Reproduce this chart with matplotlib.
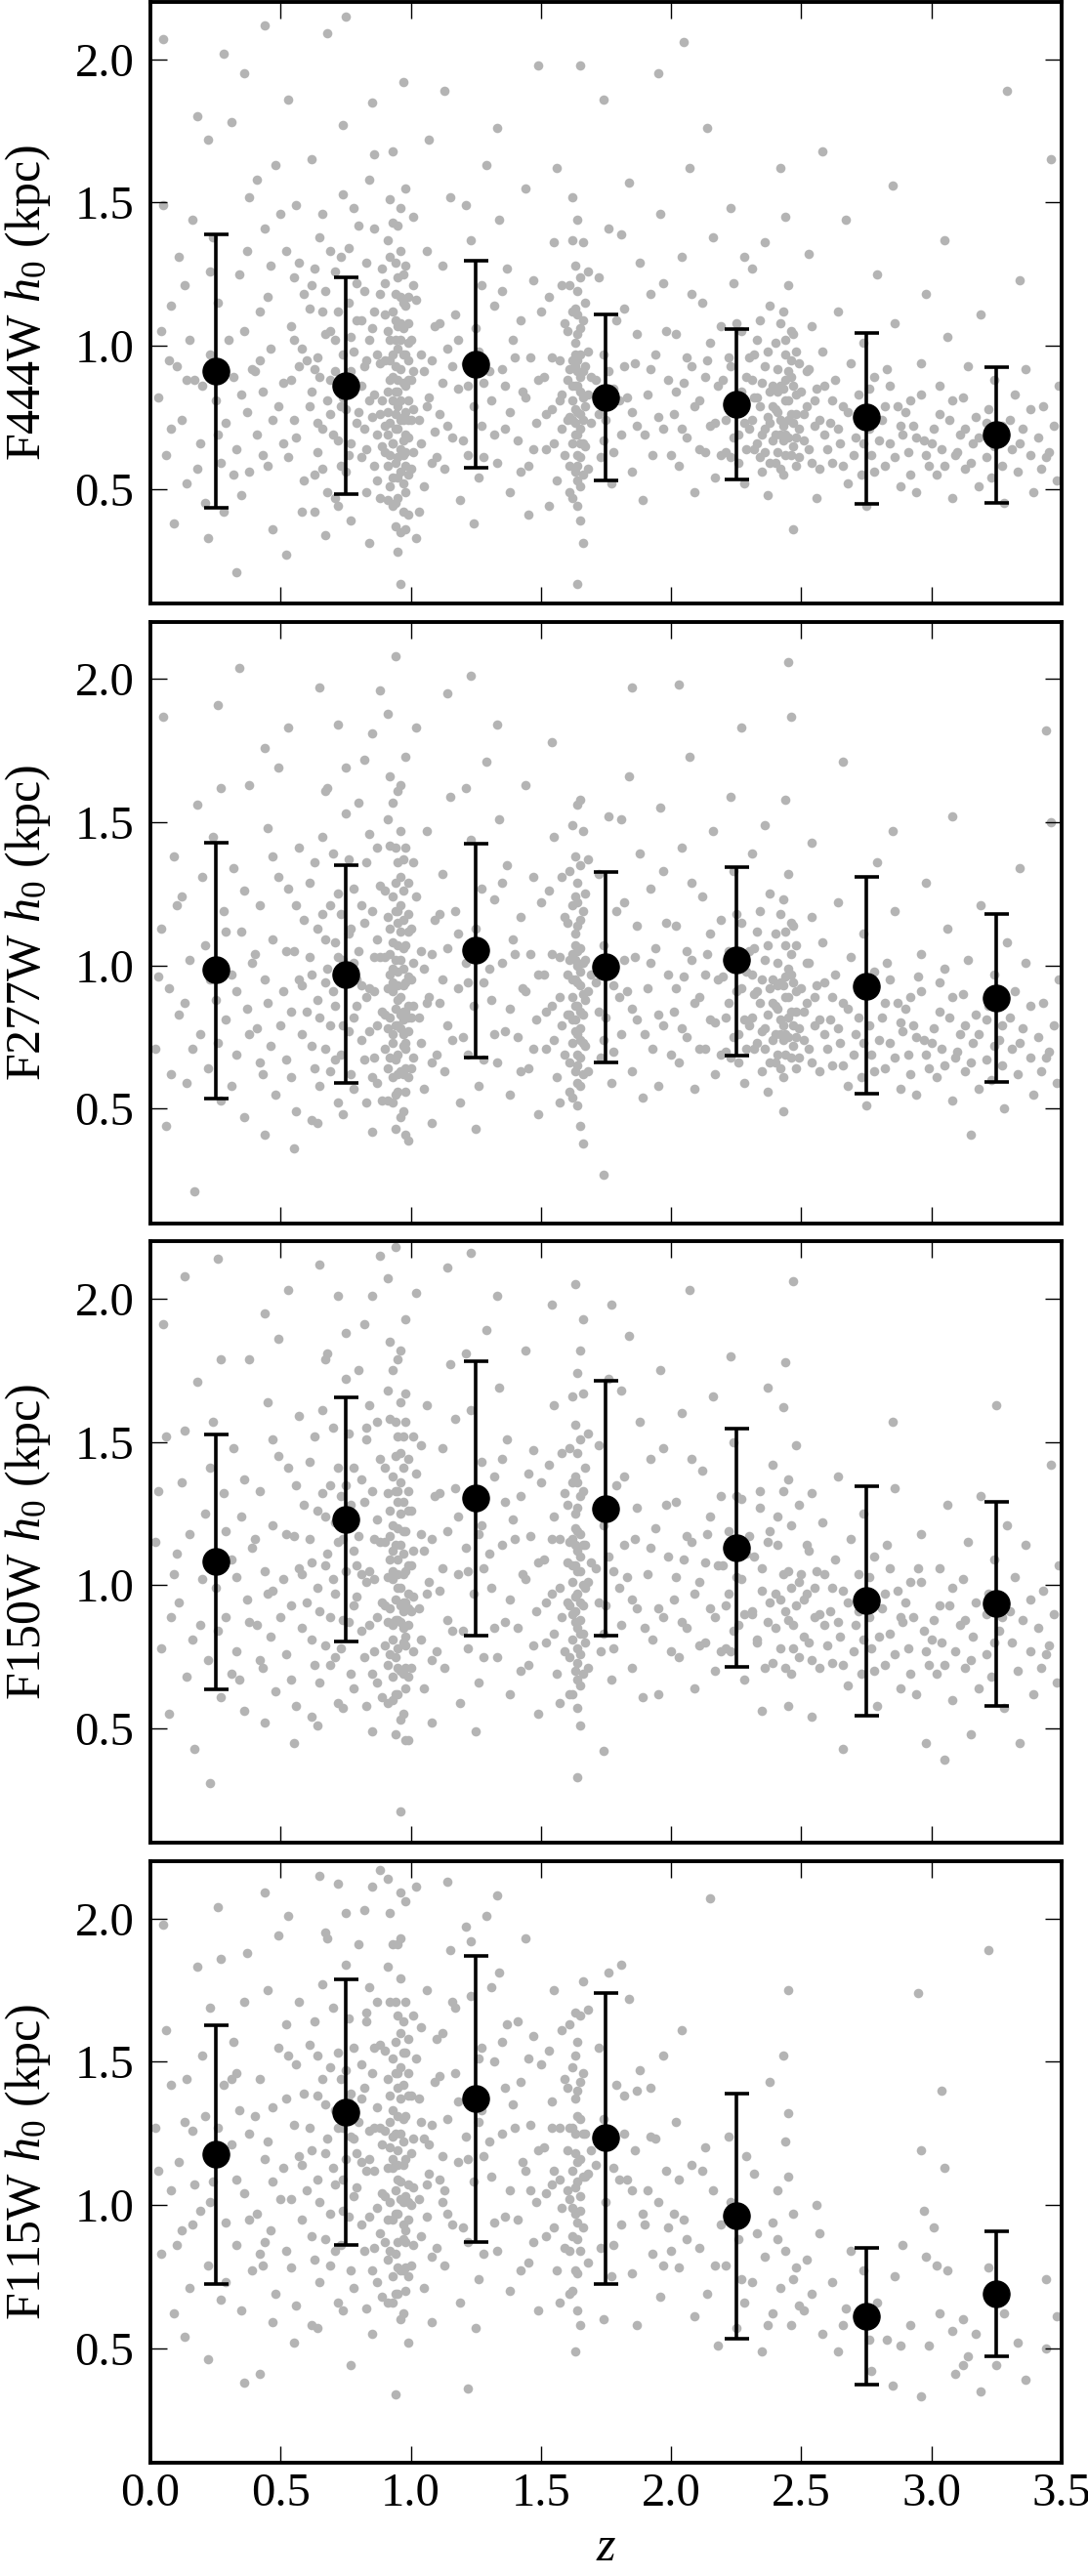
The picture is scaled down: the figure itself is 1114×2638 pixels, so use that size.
import numpy as np
import matplotlib.pyplot as plt

plt.rcParams['font.family'] = ['Liberation Serif', 'DejaVu Serif']
plt.rcParams['mathtext.fontset'] = 'custom'
plt.rcParams['mathtext.rm'] = 'Liberation Serif'
plt.rcParams['mathtext.it'] = 'Liberation Serif:italic'

# binned medians and 16/84 percentile ends
z_bins = [0.25, 0.75, 1.25, 1.75, 2.25, 2.75, 3.25]

f444w_med = [0.91, 0.86, 0.935, 0.82, 0.795, 0.75, 0.69]
f444w_lo = [0.435, 0.483, 0.574, 0.529, 0.534, 0.449, 0.45]
f444w_hi = [1.39, 1.24, 1.297, 1.111, 1.057, 1.046, 0.926]

f277w_med = [0.984, 0.97, 1.054, 0.995, 1.018, 0.929, 0.886]
f277w_lo = [0.537, 0.591, 0.679, 0.66, 0.687, 0.551, 0.592]
f277w_hi = [1.43, 1.35, 1.426, 1.326, 1.344, 1.309, 1.179]

f150w_med = [1.083, 1.23, 1.304, 1.268, 1.132, 0.946, 0.935]
f150w_lo = [0.637, 0.802, 0.825, 0.824, 0.716, 0.543, 0.577]
f150w_hi = [1.525, 1.655, 1.781, 1.713, 1.547, 1.346, 1.292]

f115w_med = [1.176, 1.325, 1.37, 1.234, 0.961, 0.611, 0.691]
f115w_lo = [0.722, 0.859, 0.869, 0.725, 0.532, 0.373, 0.472]
f115w_hi = [1.628, 1.786, 1.87, 1.739, 1.39, 0.85, 0.909]

# individual galaxies (z, h0), estimated from the scatter
f444w_pts = [
    (0.03,0.82),(0.05,2.07),(0.05,1.49),(0.06,0.62),(0.08,1.14),(0.09,0.38),(0.07,0.95),
    (0.11,1.31),(0.12,0.74),(0.14,0.52),(0.15,1.02),(0.17,0.88),(0.18,1.80),(0.19,0.66),(0.13,1.21),
    (0.21,0.45),(0.22,1.72),(0.23,0.97),(0.25,0.81),(0.26,1.15),(0.27,0.59),(0.28,2.02),(0.29,0.73),(0.24,1.38),(0.22,0.33),
    (0.31,1.78),(0.32,0.89),(0.33,0.64),(0.34,1.25),(0.35,0.48),(0.36,1.05),(0.37,0.77),(0.38,1.52),(0.39,0.92),(0.33,0.21),(0.36,1.95),(0.38,0.56),
    (0.41,0.69),(0.42,1.12),(0.43,0.84),(0.44,1.41),(0.45,0.58),(0.46,0.99),(0.47,0.36),(0.48,1.63),(0.49,0.79),(0.44,2.12),(0.46,1.28),(0.42,0.95),
    (0.51,0.87),(0.52,1.33),(0.53,0.61),(0.54,1.07),(0.55,0.74),(0.56,1.49),(0.57,0.93),(0.58,0.42),(0.59,1.18),(0.53,1.86),(0.56,0.68),(0.58,0.99),(0.52,0.27),(0.55,1.24),
    (0.61,0.79),(0.62,1.21),(0.63,0.55),(0.64,0.96),(0.65,1.38),(0.66,0.71),(0.67,1.04),(0.68,0.49),(0.69,0.88),(0.62,1.65),(0.64,0.63),(0.66,1.12),(0.68,2.09),(0.69,0.76),(0.63,0.92),(0.67,0.34),
    (0.71,1.02),(0.72,0.67),(0.73,1.31),(0.74,0.82),(0.75,0.56),(0.76,1.15),(0.77,0.91),(0.78,1.48),(0.79,0.73),(0.72,0.44),(0.74,1.77),(0.76,0.62),(0.78,0.98),(0.71,1.26),(0.73,0.79),(0.77,0.39),(0.79,1.09),(0.75,2.15),
    (0.81,0.86),(0.82,1.19),(0.83,0.64),(0.84,1.02),(0.85,0.75),(0.86,1.41),(0.87,0.53),(0.88,0.94),(0.89,1.27),(0.82,0.71),(0.84,1.58),(0.86,0.83),(0.88,0.47),(0.81,1.09),(0.83,0.95),(0.85,1.85),(0.87,0.69),(0.89,0.81),(0.84,0.31),(0.86,1.12),
    (0.90,0.72),(0.91,1.05),(0.91,0.58),(0.92,0.88),(0.92,1.31),(0.93,0.66),(0.93,0.97),(0.94,0.45),(0.94,1.18),(0.95,0.79),(0.95,1.42),(0.95,0.61),
    (0.96,0.92),(0.96,0.35),(0.96,1.08),(0.97,0.74),(0.97,1.25),(0.97,0.52),(0.98,0.86),(0.98,1.55),(0.98,0.69),(0.99,1.01),(0.99,0.41),(0.99,0.81),
    (0.90,1.22),(0.92,0.51),(0.94,0.84),(0.96,0.64),(0.98,1.14),(0.93,1.68),(0.97,1.92),(0.95,0.28),(0.91,0.77),(0.99,0.95),(0.94,1.02),(0.96,0.17),
    (1.00,0.88),(1.01,0.63),(1.02,1.16),(1.03,0.74),(1.04,0.97),(1.05,0.51),(1.06,1.33),(1.07,0.82),(1.08,0.59),(1.09,1.07),(1.01,1.45),(1.03,0.42),(1.05,0.91),(1.07,1.72),(1.09,0.70),(1.02,0.33),
    (1.11,0.76),(1.12,1.28),(1.13,0.57),(1.14,0.99),(1.15,1.52),(1.16,0.68),(1.17,1.11),(1.18,0.85),(1.19,0.46),(1.13,1.89),(1.16,0.93),
    (1.21,0.94),(1.22,0.62),(1.23,1.37),(1.24,0.79),(1.25,1.06),(1.26,0.54),(1.27,1.21),(1.28,0.87),(1.29,1.63),(1.24,0.38),(1.27,0.72),
    (1.31,0.81),(1.32,1.14),(1.33,0.59),(1.34,1.44),(1.35,0.92),(1.36,0.71),(1.37,1.27),(1.38,0.49),(1.39,1.02),(1.33,1.76),(1.36,0.86),
    (1.41,0.67),(1.42,1.09),(1.43,0.84),(1.44,1.55),(1.45,0.58),(1.46,0.96),(1.47,1.23),(1.48,0.73),(1.49,1.98),(1.45,0.41),
    (1.51,0.89),(1.52,0.64),(1.53,1.17),(1.54,0.78),(1.55,1.36),(1.56,0.53),(1.57,0.95),(1.58,0.71),(1.59,1.08),(1.53,0.44),(1.56,1.62),(1.58,0.83),
    (1.60,0.74),(1.61,0.92),(1.61,0.58),(1.62,1.12),(1.62,0.81),(1.62,0.47),(1.63,0.69),(1.63,1.01),(1.63,1.28),(1.63,0.86),(1.64,0.62),(1.64,0.77),(1.64,0.95),(1.64,1.19),(1.64,0.53),
    (1.65,0.84),(1.65,1.06),(1.65,0.71),(1.65,0.39),(1.66,0.91),(1.66,1.36),(1.66,0.66),(1.67,0.79),(1.67,1.15),(1.68,0.57),(1.68,0.98),(1.69,0.73),(1.62,1.52),(1.65,1.98),(1.64,0.17),
    (1.71,0.88),(1.72,1.24),(1.73,0.61),(1.74,0.97),(1.75,0.74),(1.76,1.41),(1.77,0.52),(1.78,0.85),(1.79,1.09),(1.74,1.86),
    (1.81,0.69),(1.82,1.13),(1.83,0.82),(1.84,1.57),(1.85,0.56),(1.86,0.94),(1.87,0.72),(1.88,1.29),(1.89,0.46),
    (1.91,0.83),(1.92,1.18),(1.93,0.62),(1.94,0.97),(1.96,1.46),(1.97,0.71),(1.99,0.88),(1.95,1.95),
    (2.01,0.76),(2.02,1.04),(2.03,0.58),(2.04,1.31),(2.05,0.87),(2.06,0.68),(2.07,1.62),(2.08,0.93),(2.09,0.49),(2.05,2.06),
    (2.11,0.81),(2.12,1.15),(2.13,0.63),(2.14,0.95),(2.15,0.72),(2.16,1.38),(2.17,0.54),(2.18,0.86),(2.19,1.07),(2.14,1.76),
    (2.21,0.74),(2.22,0.96),(2.23,0.61),(2.24,1.22),(2.25,0.83),(2.26,0.69),(2.27,1.05),(2.28,0.52),(2.29,0.89),(2.23,1.48),(2.26,0.77),(2.28,1.31),
    (2.30,0.71),(2.31,0.88),(2.32,0.64),(2.33,1.02),(2.34,0.79),(2.35,0.56),(2.36,0.93),(2.37,0.75),(2.38,1.14),(2.39,0.67),
    (2.31,1.27),(2.33,0.82),(2.35,0.69),(2.37,0.48),(2.39,0.86),(2.32,0.97),(2.34,0.61),(2.36,1.36),(2.38,0.73),
    (2.40,0.78),(2.41,0.92),(2.41,0.63),(2.42,1.08),(2.42,0.74),(2.43,0.85),(2.43,0.55),(2.44,0.97),(2.44,0.69),(2.45,1.21),(2.45,0.81),
    (2.46,0.62),(2.46,0.89),(2.47,0.73),(2.47,1.04),(2.48,0.58),(2.48,0.83),(2.49,0.71),(2.49,0.94),(2.44,1.45),(2.47,0.36),(2.42,1.62),
    (2.51,0.76),(2.52,0.91),(2.53,0.64),(2.54,1.07),(2.55,0.72),(2.56,0.85),(2.57,0.57),(2.58,0.98),(2.59,0.69),(2.53,1.32),(2.56,0.47),(2.58,1.68),
    (2.61,0.73),(2.62,0.59),(2.63,0.88),(2.64,1.12),(2.65,0.66),(2.66,0.79),(2.68,0.52),(2.69,0.94),(2.67,1.44),
    (2.71,0.68),(2.72,0.83),(2.73,0.55),(2.74,1.01),(2.76,0.71),(2.77,0.62),(2.78,0.89),(2.79,1.25),(2.75,0.44),
    (2.81,0.74),(2.82,0.58),(2.83,0.92),(2.84,0.66),(2.86,1.08),(2.87,0.79),(2.88,0.51),(2.89,0.69),(2.85,1.56),
    (2.91,0.63),(2.92,0.81),(2.93,0.72),(2.94,0.49),(2.96,0.94),(2.97,0.67),(2.98,1.18),(2.99,0.58),
    (3.01,0.71),(3.02,0.55),(3.03,0.86),(3.04,0.64),(3.06,1.03),(3.07,0.74),(3.08,0.47),(3.09,0.62),(3.05,1.37),
    (3.11,0.69),(3.12,0.82),(3.13,0.57),(3.14,0.93),(3.16,0.66),(3.17,0.75),(3.18,0.51),(3.19,1.11),
    (3.21,0.61),(3.22,0.78),(3.23,0.54),(3.24,0.88),(3.26,0.67),(3.27,0.72),(3.28,0.45),(3.29,1.89),
    (3.31,0.64),(3.32,0.83),(3.33,0.56),(3.35,0.71),(3.36,0.92),(3.38,0.62),(3.39,0.49),(3.34,1.23),
    (3.41,0.68),(3.42,0.57),(3.43,0.79),(3.45,0.63),(3.46,1.65),(3.47,0.72),(3.48,0.53),(3.49,0.86),
    # denser regions
    (0.04,1.05),(0.08,0.71),(0.10,0.93),(0.16,1.44),(0.18,0.57),(0.20,0.86),(0.23,1.26),(0.26,0.69),(0.30,1.02),(0.32,0.55),
    (0.35,0.83),(0.37,1.33),(0.40,0.91),(0.43,0.62),(0.45,1.17),(0.47,0.74),(0.50,1.46),(0.51,0.66),(0.54,0.88),(0.57,1.29),
    (0.59,0.53),(0.41,1.58),(0.28,0.42),(0.14,0.88),(0.55,1.02),
    (0.60,0.95),(0.61,1.13),(0.62,0.84),(0.63,1.27),(0.64,0.73),(0.65,0.89),(0.66,0.57),(0.67,1.19),(0.68,0.81),(0.69,1.05),
    (0.70,0.69),(0.71,0.91),(0.72,1.12),(0.73,0.58),(0.74,0.97),(0.75,0.78),(0.76,1.34),(0.77,0.66),(0.78,0.84),(0.79,1.22),
    (0.80,0.77),(0.81,0.61),(0.82,0.93),(0.83,1.29),(0.84,0.81),(0.85,1.06),(0.86,0.58),(0.87,0.97),(0.88,1.18),(0.89,0.65),
    (0.80,1.42),(0.83,0.49),(0.86,1.67),(0.88,0.76),(0.71,0.47),(0.74,1.53),(0.66,1.46),(0.63,0.42),(0.69,1.33),(0.77,1.03),
    (0.90,0.95),(0.90,0.63),(0.90,1.11),(0.91,0.84),(0.91,1.37),(0.91,0.46),(0.92,0.73),(0.92,1.02),(0.92,0.62),(0.93,0.81),
    (0.93,1.12),(0.93,0.54),(0.93,1.43),(0.94,0.71),(0.94,0.93),(0.94,1.29),(0.94,0.59),(0.95,0.88),(0.95,1.07),(0.95,0.47),
    (0.95,0.71),(0.96,0.81),(0.96,1.17),(0.96,0.56),(0.96,1.33),(0.97,0.87),(0.97,0.62),(0.97,1.06),(0.97,0.42),(0.98,0.77),
    (0.98,0.97),(0.98,0.58),(0.98,1.28),(0.99,0.68),(0.99,1.17),(0.99,0.55),(1.00,0.74),(1.00,1.02),(1.00,0.57),(1.01,0.91),
    (1.01,0.78),(1.01,1.21),(0.92,1.51),(0.94,0.37),(0.96,1.48),(0.98,0.36),(0.95,1.24),(0.97,0.75),(0.99,0.88),(0.93,0.66),
    (0.93,0.89),(0.94,0.76),(0.95,0.99),(0.96,0.74),(0.97,0.97),(0.98,0.63),(0.99,0.74),(0.92,0.95),(0.94,1.09),(0.96,1.02),
    (0.97,1.15),(0.98,0.49),(0.95,0.54),(0.93,0.44),(0.91,0.69),(0.99,1.08),(0.97,0.67),(0.95,0.84),
    (1.04,0.66),(1.06,0.79),(1.08,0.95),(1.10,0.61),(1.12,0.87),(1.14,0.72),(1.18,1.02),(1.20,0.67),(1.22,0.86),(1.26,0.98),
    (1.28,0.61),(1.30,0.91),(1.32,0.69),(1.35,1.19),(1.38,0.77),(1.40,0.96),(1.42,0.56),(1.44,0.82),(1.47,0.64),(1.49,0.88),
    (1.50,1.12),(1.52,0.76),(1.54,0.96),(1.21,1.49),(1.11,1.08),
    (1.55,0.66),(1.57,0.81),(1.58,1.21),(1.59,0.62),(1.60,0.88),(1.60,1.05),(1.61,0.75),(1.61,1.21),(1.61,0.49),(1.62,0.95),
    (1.62,0.66),(1.62,0.74),(1.63,0.56),(1.63,0.93),(1.63,0.78),(1.63,1.13),(1.64,0.86),(1.64,1.04),(1.64,0.69),(1.64,0.44),
    (1.65,0.76),(1.65,0.97),(1.65,1.24),(1.65,0.61),(1.66,0.82),(1.66,1.09),(1.66,0.55),(1.67,0.93),(1.67,0.65),(1.68,0.83),
    (1.68,1.26),(1.69,0.89),(1.62,1.37),(1.64,1.44),(1.66,0.31),
    (1.63,0.73),(1.64,0.91),(1.65,0.66),(1.63,0.97),(1.64,0.58),(1.65,0.89),(1.62,0.86),(1.66,0.74),(1.64,1.11),(1.65,0.51),
    (1.72,0.76),(1.74,0.67),(1.76,0.91),(1.78,0.63),(1.80,0.81),(1.82,0.93),(1.85,0.77),(1.87,1.04),(1.90,0.69),(1.92,0.92),
    (1.95,0.75),(1.98,1.05),(2.00,0.62),(2.02,0.84),(2.04,0.71),(2.06,0.96),(2.09,0.79),(2.11,0.64),(2.13,0.89),(2.15,1.01),
    (2.17,0.73),(2.19,0.62),(1.81,1.39),(1.97,1.22),(2.08,1.18),
    (2.20,0.88),(2.21,0.63),(2.22,0.79),(2.23,0.93),(2.24,0.68),(2.25,1.08),(2.26,0.59),(2.27,0.84),(2.28,0.73),(2.29,0.64),
    (2.30,0.96),(2.31,0.74),(2.32,0.82),(2.33,0.66),(2.34,1.09),(2.35,0.87),(2.36,0.71),(2.37,0.98),(2.38,0.59),(2.39,0.79),
    (2.40,0.69),(2.40,1.01),(2.41,0.77),(2.42,0.86),(2.42,0.57),(2.43,0.72),(2.43,1.12),(2.44,0.81),(2.44,0.62),(2.45,0.91),
    (2.45,0.68),(2.46,0.76),(2.46,1.05),(2.47,0.86),(2.48,0.68),(2.48,0.98),(2.49,0.61),(2.50,0.84),(2.51,0.67),(2.52,0.79),
    (2.53,0.92),(2.54,0.59),(2.55,0.81),(2.57,0.74),(2.59,0.86),
    (2.41,0.84),(2.43,0.67),(2.44,0.88),(2.45,0.74),(2.46,0.95),(2.42,0.69),(2.47,0.65),(2.44,1.02),(2.38,0.84),(2.36,0.63),
    (2.48,0.76),(2.40,0.59),
    (2.60,0.64),(2.62,0.81),(2.64,0.71),(2.66,0.58),(2.68,0.77),(2.70,0.62),(2.72,0.74),(2.74,0.66),(2.76,0.85),(2.78,0.56),
    (2.80,0.67),(2.82,0.79),(2.84,0.86),(2.86,0.61),(2.88,0.72),(2.90,0.77),(2.92,0.55),(2.94,0.68),(2.96,0.83),(2.98,0.62),
    (3.00,0.66),(3.03,0.76),(3.05,0.58),(3.08,0.81),(3.10,0.63),(3.13,0.71),(3.15,0.59),(3.18,0.68),(3.21,0.73),(3.24,0.65),
    (3.27,0.58),(3.30,0.74),(3.34,0.66),(3.38,0.78),(3.44,0.61),
]

f277w_pts = [
    (0.02,0.71),(0.04,1.13),(0.06,0.44),(0.07,0.92),(0.09,1.38),(0.05,1.87),
    (0.11,0.83),(0.12,1.24),(0.14,0.59),(0.15,1.02),(0.17,0.21),(0.18,1.56),(0.19,0.76),
    (0.21,1.07),(0.22,0.64),(0.24,1.45),(0.25,0.88),(0.26,1.91),(0.27,0.53),(0.28,1.19),(0.29,0.81),
    (0.31,0.97),(0.32,1.34),(0.33,0.69),(0.35,1.12),(0.36,0.47),(0.37,0.85),(0.38,1.63),(0.39,1.01),(0.34,2.04),
    (0.41,0.78),(0.42,1.21),(0.43,0.62),(0.44,0.95),(0.45,1.48),(0.46,0.72),(0.47,1.09),(0.48,0.55),(0.49,1.31),(0.44,1.76),
    (0.51,0.91),(0.52,0.67),(0.53,1.27),(0.54,0.84),(0.55,1.05),(0.56,0.49),(0.57,1.41),(0.58,0.76),(0.59,1.16),(0.53,1.83),(0.57,0.95),(0.55,0.36),
    (0.61,1.03),(0.62,0.72),(0.63,1.36),(0.64,0.88),(0.65,0.58),(0.66,1.18),(0.67,0.94),(0.68,1.62),(0.69,0.79),(0.62,0.46),(0.65,1.97),(0.67,1.09),(0.69,0.63),
    (0.71,0.86),(0.72,1.25),(0.73,0.69),(0.74,1.02),(0.75,1.53),(0.76,0.77),(0.77,1.13),(0.78,0.57),(0.79,0.95),(0.72,1.84),(0.74,0.48),(0.76,1.37),(0.78,0.82),(0.71,1.08),
    (0.81,0.74),(0.82,1.15),(0.83,0.89),(0.84,1.46),(0.85,0.61),(0.86,1.03),(0.87,0.79),(0.88,1.28),(0.89,0.53),(0.82,1.72),(0.84,0.92),(0.86,0.68),(0.88,1.96),(0.81,1.21),(0.85,0.42),(0.87,1.09),
    (0.90,0.83),(0.91,1.17),(0.91,0.64),(0.92,0.97),(0.92,1.42),(0.93,0.76),(0.93,1.08),(0.94,0.55),(0.94,1.29),(0.95,0.88),(0.95,1.61),(0.95,0.69),
    (0.96,1.02),(0.96,0.47),(0.96,1.21),(0.97,0.81),(0.97,1.37),(0.97,0.62),(0.98,0.94),(0.98,1.73),(0.98,0.73),(0.99,1.12),(0.99,0.39),(0.99,0.86),
    (0.91,1.88),(0.93,0.91),(0.95,1.15),(0.97,0.99),(0.94,2.08),(0.96,0.78),
    (1.00,0.95),(1.01,0.68),(1.02,1.24),(1.03,0.82),(1.04,1.05),(1.05,0.57),(1.06,1.47),(1.07,0.89),(1.08,0.66),(1.09,1.16),(1.02,1.83),(1.05,0.99),(1.08,0.45),
    (1.11,0.87),(1.12,1.32),(1.13,0.63),(1.14,1.06),(1.15,1.59),(1.16,0.74),(1.17,1.19),(1.18,0.92),(1.19,0.52),(1.14,1.95),
    (1.21,1.01),(1.22,0.69),(1.23,1.44),(1.24,0.86),(1.25,1.13),(1.26,0.58),(1.27,1.27),(1.28,0.94),(1.29,1.71),(1.25,0.43),(1.23,2.01),
    (1.31,0.88),(1.32,1.23),(1.33,0.66),(1.34,1.51),(1.35,1.01),(1.36,0.77),(1.37,1.35),(1.38,0.55),(1.39,1.09),(1.33,1.84),
    (1.41,0.75),(1.42,1.17),(1.43,0.92),(1.44,1.63),(1.45,0.64),(1.46,1.04),(1.47,1.31),(1.48,0.81),(1.49,0.48),
    (1.51,0.97),(1.52,0.71),(1.53,1.26),(1.54,0.86),(1.55,1.45),(1.56,0.61),(1.57,1.03),(1.58,0.79),(1.59,1.17),(1.54,1.78),(1.57,0.52),
    (1.60,0.83),(1.61,1.02),(1.61,0.66),(1.62,1.21),(1.62,0.89),(1.62,0.54),(1.63,0.77),(1.63,1.11),(1.63,1.38),(1.63,0.95),(1.64,0.69),(1.64,0.86),(1.64,1.05),
    (1.64,1.29),(1.64,0.59),(1.65,0.93),(1.65,1.16),(1.65,0.78),(1.65,0.44),(1.66,1.01),(1.66,1.47),(1.66,0.73),(1.67,0.88),(1.67,1.25),(1.68,0.63),(1.65,1.58),
    (1.71,0.94),(1.72,1.32),(1.73,0.68),(1.74,1.07),(1.75,0.82),(1.76,1.52),(1.77,0.59),(1.78,0.93),(1.79,1.19),(1.74,0.27),
    (1.81,0.76),(1.82,1.22),(1.83,0.91),(1.84,1.66),(1.85,0.63),(1.86,1.03),(1.87,0.81),(1.88,1.39),(1.89,0.54),(1.85,1.97),
    (1.91,0.92),(1.92,1.27),(1.93,0.71),(1.94,1.06),(1.96,1.55),(1.97,0.79),(1.99,0.97),(1.95,0.58),
    (2.01,0.84),(2.02,1.14),(2.03,0.66),(2.04,1.41),(2.05,0.96),(2.06,0.75),(2.07,1.73),(2.08,1.02),(2.09,0.57),(2.03,1.98),
    (2.11,0.89),(2.12,1.24),(2.13,0.71),(2.14,1.04),(2.15,0.81),(2.16,1.47),(2.17,0.62),(2.18,0.95),(2.19,1.16),
    (2.21,0.82),(2.22,1.05),(2.23,0.68),(2.24,1.33),(2.25,0.91),(2.26,0.76),(2.27,1.15),(2.28,0.59),(2.29,0.98),(2.23,1.59),(2.27,1.83),
    (2.30,0.79),(2.31,0.97),(2.32,0.71),(2.33,1.12),(2.34,0.87),(2.35,0.63),(2.36,1.02),(2.37,0.83),(2.38,1.25),(2.39,0.74),
    (2.31,1.39),(2.33,0.91),(2.35,0.77),(2.37,0.56),(2.39,0.95),(2.32,1.06),(2.36,1.49),
    (2.40,0.86),(2.41,1.01),(2.41,0.69),(2.42,1.18),(2.42,0.81),(2.43,0.93),(2.43,0.61),(2.44,1.07),(2.44,0.76),(2.45,1.32),(2.45,0.89),
    (2.46,0.68),(2.46,0.97),(2.47,0.79),(2.47,1.14),(2.48,0.64),(2.48,0.91),(2.49,0.78),(2.44,1.58),(2.46,1.87),(2.43,0.49),(2.45,2.06),
    (2.51,0.84),(2.52,1.01),(2.53,0.71),(2.54,1.17),(2.55,0.79),(2.56,0.93),(2.57,0.63),(2.58,1.08),(2.59,0.76),(2.54,1.43),
    (2.61,0.81),(2.62,0.65),(2.63,0.97),(2.64,1.22),(2.65,0.73),(2.66,0.87),(2.68,0.58),(2.69,1.03),(2.66,1.71),
    (2.71,0.76),(2.72,0.92),(2.73,0.61),(2.74,1.11),(2.76,0.79),(2.77,0.69),(2.78,0.98),(2.79,1.36),(2.75,0.51),
    (2.81,0.82),(2.82,0.64),(2.83,1.01),(2.84,0.73),(2.86,1.19),(2.87,0.87),(2.88,0.57),(2.89,0.77),(2.85,1.47),
    (2.91,0.69),(2.92,0.89),(2.93,0.79),(2.94,0.55),(2.96,1.04),(2.97,0.74),(2.98,1.29),(2.99,0.64),(2.95,0.96),
    (3.01,0.78),(3.02,0.61),(3.03,0.94),(3.04,0.71),(3.06,1.13),(3.07,0.82),(3.08,0.53),(3.09,0.68),(3.05,0.99),(3.08,1.52),
    (3.11,0.76),(3.12,0.90),(3.13,0.63),(3.14,1.02),(3.16,0.73),(3.17,0.83),(3.18,0.57),(3.19,1.21),(3.15,0.41),
    (3.21,0.67),(3.22,0.86),(3.23,0.60),(3.24,0.97),(3.26,0.74),(3.27,0.79),(3.28,0.50),(3.29,1.08),
    (3.31,0.71),(3.32,0.91),(3.33,0.62),(3.35,0.78),(3.36,1.01),(3.38,0.68),(3.39,0.55),(3.34,1.34),
    (3.41,0.75),(3.42,0.63),(3.43,0.87),(3.45,0.70),(3.46,1.50),(3.47,0.79),(3.48,0.59),(3.49,0.95),(3.44,1.82),
    # denser regions
    (0.03,0.96),(0.08,0.62),(0.10,1.21),(0.13,0.87),(0.16,0.71),(0.20,1.31),(0.23,0.95),(0.26,0.73),(0.29,1.12),(0.31,0.58),
    (0.33,0.91),(0.36,1.26),(0.38,0.76),(0.40,1.04),(0.42,0.66),(0.45,0.87),(0.47,1.38),(0.50,0.79),(0.52,1.05),(0.54,0.61),
    (0.56,1.21),(0.58,0.93),(0.44,0.41),(0.27,1.62),(0.49,1.69),
    (0.60,0.84),(0.61,1.29),(0.62,0.97),(0.63,0.64),(0.64,1.13),(0.65,0.82),(0.66,1.45),(0.67,0.71),(0.68,0.99),(0.69,1.21),
    (0.70,0.91),(0.71,0.67),(0.72,1.03),(0.73,1.18),(0.74,0.79),(0.75,0.94),(0.76,1.11),(0.77,0.62),(0.78,1.27),(0.79,0.86),
    (0.80,1.05),(0.81,0.93),(0.82,0.67),(0.83,1.36),(0.84,0.77),(0.85,1.19),(0.86,0.91),(0.87,0.59),(0.88,1.03),(0.89,0.84),
    (0.80,1.57),(0.83,0.52),(0.85,1.81),(0.87,1.41),(0.72,0.52),(0.75,1.69),(0.67,1.61),(0.64,0.45),(0.70,1.39),(0.78,1.01),
    (0.90,1.03),(0.90,0.71),(0.90,1.26),(0.91,0.92),(0.91,1.51),(0.91,0.53),(0.92,0.82),(0.92,1.13),(0.92,0.68),(0.93,0.94),
    (0.93,1.24),(0.93,0.61),(0.93,1.57),(0.94,0.79),(0.94,1.02),(0.94,1.41),(0.94,0.67),(0.95,0.98),(0.95,1.19),(0.95,0.56),
    (0.95,0.79),(0.96,0.89),(0.96,1.31),(0.96,0.63),(0.96,1.47),(0.97,0.93),(0.97,0.72),(0.97,1.16),(0.97,0.49),(0.98,0.84),
    (0.98,1.07),(0.98,0.64),(0.98,1.41),(0.99,0.77),(0.99,1.29),(0.99,0.61),(1.00,0.82),(1.00,1.13),(1.00,0.64),(1.01,1.01),
    (1.01,0.86),(1.01,1.36),(0.92,1.66),(0.94,0.43),(0.96,1.63),(0.98,0.41),(0.95,1.36),(0.97,0.84),(0.99,0.96),(0.93,0.73),
    (0.93,0.99),(0.94,0.85),(0.95,1.07),(0.96,0.83),(0.97,1.06),(0.98,0.71),(0.99,0.82),(0.92,1.04),(0.94,1.19),(0.96,1.12),
    (0.97,1.26),(0.98,0.56),(0.95,0.62),(0.93,0.52),(0.91,0.78),(0.99,1.18),(0.97,0.76),(0.95,0.93),
    (1.04,0.73),(1.06,0.87),(1.08,1.04),(1.10,0.69),(1.12,0.95),(1.14,0.79),(1.18,1.11),(1.20,0.75),(1.22,0.94),(1.26,1.06),
    (1.28,0.67),(1.30,0.99),(1.32,0.76),(1.35,1.29),(1.38,0.85),(1.40,1.04),(1.42,0.63),(1.44,0.91),(1.47,0.71),(1.49,0.97),
    (1.50,1.22),(1.52,0.84),(1.54,1.04),(1.21,1.62),(1.11,1.18),
    (1.55,0.74),(1.57,0.89),(1.58,1.31),(1.59,0.69),(1.60,0.97),(1.60,1.15),(1.61,0.83),(1.61,1.33),(1.61,0.56),(1.62,1.04),
    (1.62,0.73),(1.62,0.81),(1.63,0.63),(1.63,1.02),(1.63,0.86),(1.63,1.24),(1.64,0.94),(1.64,1.14),(1.64,0.76),(1.64,0.51),
    (1.65,0.84),(1.65,1.06),(1.65,1.35),(1.65,0.68),(1.66,0.90),(1.66,1.19),(1.66,0.62),(1.67,1.02),(1.67,0.72),(1.68,0.91),
    (1.68,1.37),(1.69,0.97),(1.62,1.49),(1.64,1.56),(1.66,0.38),
    (1.63,0.81),(1.64,1.00),(1.65,0.74),(1.63,1.07),(1.64,0.65),(1.65,0.98),(1.62,0.95),(1.66,0.83),(1.64,1.22),(1.65,0.58),
    (1.72,0.84),(1.74,0.74),(1.76,0.99),(1.78,0.70),(1.80,0.89),(1.82,1.02),(1.85,0.85),(1.87,1.14),(1.90,0.76),(1.92,1.01),
    (1.95,0.83),(1.98,1.15),(2.00,0.69),(2.02,0.92),(2.04,0.78),(2.06,1.05),(2.09,0.87),(2.11,0.71),(2.13,0.97),(2.15,1.11),
    (2.17,0.80),(2.19,0.69),(1.81,1.51),(1.97,1.33),(2.08,1.29),
    (2.20,0.96),(2.21,0.70),(2.22,0.87),(2.23,1.02),(2.24,0.75),(2.25,1.18),(2.26,0.66),(2.27,0.92),(2.28,0.81),(2.29,0.71),
    (2.30,1.05),(2.31,0.82),(2.32,0.90),(2.33,0.73),(2.34,1.19),(2.35,0.95),(2.36,0.78),(2.37,1.07),(2.38,0.66),(2.39,0.87),
    (2.40,0.76),(2.40,1.11),(2.41,0.85),(2.42,0.94),(2.42,0.64),(2.43,0.79),(2.43,1.23),(2.44,0.89),(2.44,0.69),(2.45,0.99),
    (2.45,0.75),(2.46,0.84),(2.46,1.15),(2.47,0.94),(2.48,0.75),(2.48,1.07),(2.49,0.68),(2.50,0.92),(2.51,0.74),(2.52,0.87),
    (2.53,1.01),(2.54,0.66),(2.55,0.89),(2.57,0.81),(2.59,0.94),
    (2.41,0.93),(2.43,0.74),(2.44,0.96),(2.45,0.82),(2.46,1.04),(2.42,0.76),(2.47,0.72),(2.44,1.12),(2.38,0.92),(2.36,0.71),
    (2.48,0.84),(2.40,0.66),
    (2.60,0.71),(2.62,0.89),(2.64,0.78),(2.66,0.65),(2.68,0.85),(2.70,0.69),(2.72,0.82),(2.74,0.73),(2.76,0.93),(2.78,0.63),
    (2.80,0.74),(2.82,0.87),(2.84,0.95),(2.86,0.68),(2.88,0.80),(2.90,0.85),(2.92,0.62),(2.94,0.75),(2.96,0.91),(2.98,0.69),
    (3.00,0.73),(3.03,0.84),(3.05,0.65),(3.08,0.89),(3.10,0.70),(3.13,0.79),(3.15,0.66),(3.18,0.76),(3.21,0.81),(3.24,0.72),
    (3.27,0.65),(3.30,0.82),(3.34,0.73),(3.38,0.86),(3.44,0.68),
]

f150w_pts = [
    (0.02,1.15),(0.04,0.78),(0.06,1.52),(0.07,0.55),(0.09,1.04),(0.05,1.91),
    (0.11,0.94),(0.12,1.36),(0.14,0.68),(0.15,1.18),(0.17,0.43),(0.18,1.71),(0.19,0.86),(0.13,2.08),
    (0.21,1.25),(0.22,0.74),(0.24,1.57),(0.25,0.99),(0.26,2.14),(0.27,0.61),(0.28,1.32),(0.29,0.89),(0.23,0.31),
    (0.31,1.09),(0.32,1.48),(0.33,0.77),(0.35,1.24),(0.36,0.56),(0.37,0.95),(0.38,1.79),(0.39,1.13),(0.34,0.67),
    (0.41,0.86),(0.42,1.33),(0.43,0.71),(0.44,1.05),(0.45,1.64),(0.46,0.82),(0.47,1.21),(0.48,0.63),(0.49,1.45),(0.44,1.95),(0.47,0.98),
    (0.51,1.02),(0.52,0.76),(0.53,1.41),(0.54,0.93),(0.55,1.17),(0.56,0.58),(0.57,1.59),(0.58,0.85),(0.59,1.28),(0.53,2.03),(0.57,1.06),(0.55,0.45),
    (0.61,1.16),(0.62,0.81),(0.63,1.52),(0.64,0.99),(0.65,0.66),(0.66,1.32),(0.67,1.07),(0.68,1.81),(0.69,0.89),(0.62,0.54),(0.65,2.12),(0.67,1.24),(0.69,0.72),
    (0.71,0.97),(0.72,1.41),(0.73,0.78),(0.74,1.16),(0.75,1.72),(0.76,0.87),(0.77,1.28),(0.78,0.64),(0.79,1.07),(0.72,2.01),(0.74,0.57),(0.76,1.53),(0.78,0.93),(0.71,1.22),(0.75,1.35),
    (0.81,0.84),(0.82,1.29),(0.83,1.01),(0.84,1.63),(0.85,0.69),(0.86,1.16),(0.87,0.89),(0.88,1.44),(0.89,0.61),(0.82,1.91),(0.84,1.05),(0.86,0.77),(0.88,2.15),(0.81,1.37),(0.85,0.49),(0.87,1.23),(0.83,1.55),
    (0.90,0.93),(0.91,1.32),(0.91,0.72),(0.92,1.09),(0.92,1.58),(0.93,0.86),(0.93,1.21),(0.94,0.62),(0.94,1.45),(0.95,0.99),(0.95,1.79),(0.95,0.78),
    (0.96,1.14),(0.96,0.53),(0.96,1.36),(0.97,0.91),(0.97,1.52),(0.97,0.69),(0.98,1.05),(0.98,1.93),(0.98,0.82),(0.99,1.26),(0.99,0.46),(0.99,0.97),
    (0.91,2.07),(0.93,1.02),(0.95,1.29),(0.97,1.11),(0.94,2.18),(0.96,0.87),(0.98,1.67),(0.96,0.21),
    (1.00,1.07),(1.01,0.77),(1.02,1.39),(1.03,0.92),(1.04,1.18),(1.05,0.64),(1.06,1.63),(1.07,1.01),(1.08,0.74),(1.09,1.31),(1.02,2.02),(1.05,1.12),(1.08,0.52),(1.04,1.49),
    (1.11,0.98),(1.12,1.48),(1.13,0.71),(1.14,1.19),(1.15,1.77),(1.16,0.84),(1.17,1.34),(1.18,1.04),(1.19,0.59),(1.14,2.11),(1.17,1.58),
    (1.21,1.13),(1.22,0.78),(1.23,1.61),(1.24,0.97),(1.25,1.27),(1.26,0.66),(1.27,1.43),(1.28,1.06),(1.29,1.89),(1.25,0.49),(1.23,2.16),(1.27,1.21),
    (1.31,0.99),(1.32,1.38),(1.33,0.75),(1.34,1.69),(1.35,1.14),(1.36,0.87),(1.37,1.51),(1.38,0.62),(1.39,1.23),(1.33,2.01),(1.36,1.29),
    (1.41,0.85),(1.42,1.31),(1.43,1.04),(1.44,1.82),(1.45,0.72),(1.46,1.17),(1.47,1.47),(1.48,0.91),(1.49,0.55),(1.45,1.39),
    (1.51,1.09),(1.52,0.80),(1.53,1.42),(1.54,0.97),(1.55,1.63),(1.56,0.69),(1.57,1.16),(1.58,0.89),(1.59,1.32),(1.54,1.98),(1.57,0.59),(1.55,1.24),
    (1.60,0.94),(1.61,1.15),(1.61,0.75),(1.62,1.36),(1.62,1.01),(1.62,0.62),(1.63,0.87),(1.63,1.25),(1.63,1.56),(1.63,1.07),(1.64,0.78),(1.64,0.97),(1.64,1.19),(1.64,1.46),
    (1.64,0.67),(1.65,1.05),(1.65,1.31),(1.65,0.88),(1.65,0.51),(1.66,1.14),(1.66,1.67),(1.66,0.83),(1.67,0.99),(1.67,1.41),(1.68,0.71),(1.65,1.82),(1.63,2.05),(1.64,0.33),
    (1.71,1.06),(1.72,1.49),(1.73,0.77),(1.74,1.21),(1.75,0.93),(1.76,1.72),(1.77,0.67),(1.78,1.05),(1.79,1.35),(1.74,0.42),(1.77,1.98),
    (1.81,0.86),(1.82,1.38),(1.83,1.03),(1.84,1.87),(1.85,0.71),(1.86,1.16),(1.87,0.92),(1.88,1.57),(1.89,0.61),
    (1.91,1.04),(1.92,1.44),(1.93,0.81),(1.94,1.20),(1.96,1.75),(1.97,0.89),(1.99,1.10),(1.95,0.62),
    (2.01,0.95),(2.02,1.29),(2.03,0.75),(2.04,1.60),(2.05,1.09),(2.06,0.85),(2.07,2.03),(2.08,1.15),(2.09,0.64),
    (2.11,1.01),(2.12,1.40),(2.13,0.80),(2.14,1.18),(2.15,0.92),(2.16,1.66),(2.17,0.70),(2.18,1.07),(2.19,1.31),
    (2.21,0.93),(2.22,1.19),(2.23,0.77),(2.24,1.50),(2.25,1.03),(2.26,0.86),(2.27,1.30),(2.28,0.67),(2.29,1.11),(2.23,1.80),
    (2.31,0.90),(2.32,1.10),(2.33,0.80),(2.34,1.27),(2.35,0.98),(2.36,0.71),(2.37,1.15),(2.38,0.94),(2.39,1.42),(2.35,0.56),(2.37,1.69),
    (2.40,0.97),(2.41,1.14),(2.42,0.78),(2.43,1.33),(2.44,0.91),(2.45,1.05),(2.46,0.69),(2.46,1.21),(2.47,0.86),(2.48,1.49),(2.49,1.01),(2.45,0.58),(2.44,1.78),(2.47,2.06),(2.49,0.75),
    (2.51,0.95),(2.52,1.14),(2.53,0.80),(2.54,1.32),(2.55,0.89),(2.56,1.05),(2.57,0.71),(2.58,1.22),(2.59,0.86),(2.54,0.54),
    (2.61,0.91),(2.62,0.73),(2.63,1.09),(2.64,1.38),(2.65,0.82),(2.66,0.98),(2.68,0.65),(2.69,1.16),(2.66,0.43),
    (2.71,0.86),(2.72,1.04),(2.73,0.69),(2.74,1.25),(2.76,0.89),(2.77,0.78),(2.78,1.10),(2.79,0.58),(2.75,0.97),
    (2.81,0.92),(2.82,0.72),(2.83,1.14),(2.84,0.83),(2.86,1.34),(2.87,0.98),(2.88,0.64),(2.89,0.87),(2.85,1.57),
    (2.91,0.78),(2.92,1.01),(2.93,0.89),(2.94,0.62),(2.96,1.18),(2.97,0.84),(2.98,0.45),(2.99,0.72),(2.95,1.06),
    (3.01,0.88),(3.02,0.69),(3.03,1.06),(3.04,0.80),(3.06,1.28),(3.07,0.93),(3.08,0.60),(3.09,0.77),(3.05,0.39),
    (3.11,0.86),(3.12,1.02),(3.13,0.71),(3.14,1.15),(3.16,0.82),(3.17,0.94),(3.18,0.64),(3.19,1.31),(3.15,0.48),
    (3.21,0.76),(3.22,0.97),(3.23,0.68),(3.24,1.09),(3.26,0.84),(3.27,0.89),(3.28,0.57),(3.29,1.21),(3.25,1.63),
    (3.31,0.80),(3.32,1.03),(3.33,0.70),(3.35,0.88),(3.36,1.14),(3.38,0.77),(3.39,0.62),(3.34,0.45),
    (3.41,0.85),(3.42,0.71),(3.43,0.98),(3.45,0.79),(3.46,1.42),(3.47,0.90),(3.48,0.66),(3.49,1.07),
    # denser regions
    (0.03,1.33),(0.08,0.89),(0.10,1.11),(0.13,1.54),(0.16,0.81),(0.20,1.02),(0.23,1.41),(0.26,0.84),(0.29,1.19),(0.31,0.69),
    (0.33,1.03),(0.36,1.37),(0.38,0.87),(0.40,1.16),(0.42,0.74),(0.45,0.97),(0.47,1.51),(0.50,0.89),(0.52,1.18),(0.54,0.67),
    (0.56,1.35),(0.58,1.04),(0.44,0.52),(0.27,1.79),(0.49,1.86),
    (0.60,0.94),(0.61,1.43),(0.62,1.08),(0.63,0.72),(0.64,1.26),(0.65,0.91),(0.66,1.61),(0.67,0.79),(0.68,1.11),(0.69,1.35),
    (0.70,1.02),(0.71,0.75),(0.72,1.15),(0.73,1.31),(0.74,0.88),(0.75,1.05),(0.76,1.24),(0.77,0.69),(0.78,1.41),(0.79,0.96),
    (0.80,1.17),(0.81,1.04),(0.82,0.75),(0.83,1.51),(0.84,0.86),(0.85,1.33),(0.86,1.02),(0.87,0.66),(0.88,1.15),(0.89,0.94),
    (0.80,1.75),(0.83,0.58),(0.85,2.01),(0.87,1.57),(0.72,0.59),(0.75,1.88),(0.67,1.79),(0.64,0.51),(0.70,1.55),(0.78,1.12),
    (0.90,1.15),(0.90,0.79),(0.90,1.41),(0.91,1.03),(0.91,1.68),(0.91,0.59),(0.92,0.92),(0.92,1.26),(0.92,0.76),(0.93,1.05),
    (0.93,1.38),(0.93,0.68),(0.93,1.75),(0.94,0.88),(0.94,1.14),(0.94,1.57),(0.94,0.75),(0.95,1.09),(0.95,1.33),(0.95,0.62),
    (0.95,0.88),(0.96,0.99),(0.96,1.46),(0.96,0.70),(0.96,1.64),(0.97,1.04),(0.97,0.80),(0.97,1.29),(0.97,0.55),(0.98,0.94),
    (0.98,1.19),(0.98,0.71),(0.98,1.57),(0.99,0.86),(0.99,1.44),(0.99,0.68),(1.00,0.91),(1.00,1.26),(1.00,0.71),(1.01,1.12),
    (1.01,0.96),(1.01,1.52),(0.92,1.85),(0.94,0.48),(0.96,1.82),(0.98,0.46),(0.95,1.52),(0.97,0.94),(0.99,1.07),(0.93,0.81),
    (0.93,1.12),(0.94,0.95),(0.95,1.20),(0.96,0.93),(0.97,1.19),(0.98,0.79),(0.99,0.92),(0.92,1.17),(0.94,1.33),(0.96,1.25),
    (0.97,1.41),(0.98,0.64),(0.95,0.71),(0.93,0.60),(0.91,0.87),(0.99,1.33),(0.97,0.85),(0.95,1.04),
    (1.04,0.81),(1.06,0.97),(1.08,1.16),(1.10,0.77),(1.12,1.06),(1.14,0.88),(1.18,1.24),(1.20,0.84),(1.22,1.05),(1.26,1.18),
    (1.28,0.75),(1.30,1.11),(1.32,0.85),(1.35,1.44),(1.38,0.95),(1.40,1.16),(1.42,0.70),(1.44,1.02),(1.47,0.79),(1.49,1.08),
    (1.50,1.36),(1.52,0.94),(1.54,1.16),(1.21,1.81),(1.11,1.32),
    (1.55,0.83),(1.57,0.99),(1.58,1.46),(1.59,0.77),(1.60,1.08),(1.60,1.28),(1.61,0.93),(1.61,1.48),(1.61,0.62),(1.62,1.16),
    (1.62,0.81),(1.62,0.90),(1.63,0.70),(1.63,1.14),(1.63,0.96),(1.63,1.38),(1.64,1.05),(1.64,1.27),(1.64,0.85),(1.64,0.57),
    (1.65,0.94),(1.65,1.18),(1.65,1.51),(1.65,0.76),(1.66,1.00),(1.66,1.33),(1.66,0.69),(1.67,1.14),(1.67,0.80),(1.68,1.01),
    (1.68,1.53),(1.69,1.08),(1.62,1.66),(1.64,1.74),(1.66,1.93),
    (1.63,0.91),(1.64,1.12),(1.65,0.83),(1.63,1.20),(1.64,0.73),(1.65,1.10),(1.62,1.07),(1.66,0.93),(1.64,1.36),(1.65,0.65),
    (1.72,0.94),(1.74,0.83),(1.76,1.10),(1.78,0.78),(1.80,0.99),(1.82,1.14),(1.85,0.95),(1.87,1.27),(1.90,0.85),(1.92,1.13),
    (1.95,0.92),(1.98,1.28),(2.00,0.77),(2.02,1.03),(2.04,0.87),(2.06,1.17),(2.09,0.97),(2.11,0.79),(2.13,1.08),(2.15,1.24),
    (2.17,0.89),(2.19,0.77),(1.81,1.68),(1.97,1.48),(2.08,1.44),
    (2.20,1.07),(2.21,0.78),(2.22,0.97),(2.24,0.84),(2.25,1.31),(2.27,1.02),(2.28,0.90),(2.30,1.17),(2.31,0.91),(2.33,0.81),
    (2.34,1.33),(2.35,1.06),(2.37,0.87),(2.38,1.19),(2.39,0.73),(2.40,0.85),(2.41,1.24),(2.42,0.95),(2.43,1.04),(2.44,0.71),
    (2.45,0.88),(2.45,1.37),(2.46,0.99),(2.47,0.78),(2.48,0.93),(2.49,1.28),(2.50,1.04),(2.51,0.82),(2.52,0.97),(2.53,1.12),
    (2.54,0.74),(2.55,0.99),(2.57,0.90),(2.59,1.04),(2.43,1.62),
    (2.60,0.79),(2.62,0.99),(2.64,0.87),(2.66,0.72),(2.68,0.94),(2.70,0.77),(2.72,0.91),(2.74,0.81),(2.76,1.03),(2.78,0.70),
    (2.80,0.82),(2.82,0.97),(2.84,1.06),(2.86,0.76),(2.88,0.89),(2.90,0.94),(2.92,0.69),(2.96,1.01),(2.98,0.77),(3.00,0.81),
    (3.03,0.93),(3.05,0.72),(3.08,0.99),(3.13,0.88),(3.15,0.74),(3.21,0.90),(3.24,0.80),(3.30,0.91),(3.38,0.95),(3.44,0.76),
]

f115w_pts = [
    (0.02,1.27),(0.04,0.83),(0.06,1.61),(0.08,1.05),(0.09,0.62),(0.05,1.98),
    (0.11,1.15),(0.12,0.91),(0.14,1.44),(0.15,0.71),(0.16,1.26),(0.18,1.83),(0.19,0.98),(0.13,0.54),(0.17,1.07),
    (0.21,1.31),(0.22,0.79),(0.23,1.69),(0.24,1.08),(0.26,2.04),(0.27,0.67),(0.28,1.42),(0.29,0.94),(0.25,1.19),(0.22,0.46),
    (0.31,1.21),(0.32,1.57),(0.33,0.86),(0.34,1.33),(0.35,0.63),(0.36,1.04),(0.37,1.88),(0.38,1.25),(0.39,0.77),(0.33,1.46),(0.36,0.38),
    (0.41,0.97),(0.42,1.44),(0.43,0.79),(0.44,1.16),(0.45,1.75),(0.46,0.91),(0.47,1.34),(0.48,0.69),(0.49,1.55),(0.44,2.09),(0.47,1.08),(0.42,0.41),
    (0.51,1.13),(0.52,0.84),(0.53,1.52),(0.54,1.02),(0.55,1.28),(0.56,0.65),(0.57,1.71),(0.58,0.95),(0.59,1.39),(0.53,2.01),(0.57,1.17),(0.55,0.52),(0.52,1.63),
    (0.61,1.27),(0.62,0.89),(0.63,1.64),(0.64,1.09),(0.65,0.73),(0.66,1.44),(0.67,1.18),(0.68,1.93),(0.69,0.97),(0.62,0.58),(0.65,2.15),(0.67,1.35),(0.69,0.79),(0.64,1.52),
    (0.71,1.07),(0.72,1.53),(0.73,0.86),(0.74,1.27),(0.75,1.84),(0.76,0.96),(0.77,1.39),(0.78,0.71),(0.79,1.18),(0.72,2.12),(0.74,0.63),(0.76,1.65),(0.78,1.03),(0.71,1.33),(0.75,1.47),(0.77,0.44),
    (0.81,0.93),(0.82,1.41),(0.83,1.12),(0.84,1.76),(0.85,0.77),(0.86,1.27),(0.87,0.99),(0.88,1.56),(0.89,0.68),(0.82,2.03),(0.84,1.16),(0.86,0.85),(0.88,2.17),(0.81,1.49),(0.85,0.55),(0.87,1.34),(0.83,1.67),(0.89,1.21),
    (0.90,1.03),(0.91,1.44),(0.91,0.81),(0.92,1.20),(0.92,1.71),(0.93,0.95),(0.93,1.33),(0.94,0.69),(0.94,1.57),(0.95,1.09),(0.95,1.91),(0.95,0.87),
    (0.96,1.25),(0.96,0.60),(0.96,1.48),(0.97,1.01),(0.97,1.64),(0.97,0.77),(0.98,1.16),(0.98,2.06),(0.98,0.91),(0.99,1.38),(0.99,0.52),(0.99,1.07),
    (0.91,2.14),(0.93,1.13),(0.95,1.41),(0.97,1.22),(0.96,1.79),(0.98,1.53),(0.94,0.34),
    (1.00,1.18),(1.01,0.86),(1.02,1.51),(1.03,1.02),(1.04,1.29),(1.05,0.71),(1.06,1.75),(1.07,1.11),(1.08,0.82),(1.09,1.43),(1.02,2.11),(1.05,1.23),(1.08,0.59),(1.04,1.62),(1.06,0.96),
    (1.11,1.09),(1.12,1.60),(1.13,0.79),(1.14,1.30),(1.15,1.89),(1.16,0.93),(1.17,1.46),(1.18,1.15),(1.19,0.66),(1.14,2.13),(1.17,1.69),(1.12,1.01),
    (1.21,1.24),(1.22,0.87),(1.23,1.73),(1.24,1.08),(1.25,1.39),(1.26,0.74),(1.27,1.55),(1.28,1.17),(1.29,2.01),(1.25,0.57),(1.23,1.92),(1.27,1.33),(1.22,0.36),
    (1.31,1.10),(1.32,1.50),(1.33,0.84),(1.34,1.81),(1.35,1.25),(1.36,0.96),(1.37,1.63),(1.38,0.70),(1.39,1.35),(1.33,2.08),(1.36,1.41),
    (1.41,0.95),(1.42,1.43),(1.43,1.15),(1.44,1.93),(1.45,0.80),(1.46,1.28),(1.47,1.59),(1.48,1.01),(1.49,0.63),(1.45,1.51),
    (1.51,1.20),(1.52,0.89),(1.53,1.54),(1.54,1.07),(1.55,1.75),(1.56,0.77),(1.57,1.27),(1.58,0.99),(1.59,1.44),(1.54,1.36),(1.57,0.66),(1.55,1.12),
    (1.60,1.05),(1.61,1.27),(1.61,0.84),(1.62,1.48),(1.62,1.12),(1.62,0.70),(1.63,0.97),(1.63,1.37),(1.63,1.67),(1.63,1.18),(1.64,0.88),(1.64,1.08),(1.64,1.31),
    (1.64,1.57),(1.64,0.76),(1.65,1.16),(1.65,1.43),(1.65,0.98),(1.65,0.58),(1.66,1.25),(1.66,1.78),(1.66,0.92),(1.67,1.10),(1.68,0.80),(1.63,0.49),
    (1.71,1.14),(1.72,1.55),(1.73,0.85),(1.74,1.30),(1.75,1.01),(1.76,1.81),(1.77,0.75),(1.78,1.13),(1.79,1.42),(1.74,0.60),
    (1.81,0.93),(1.82,1.38),(1.83,1.09),(1.84,1.72),(1.85,0.76),(1.86,1.19),(1.87,0.58),(1.88,1.47),(1.89,0.97),
    (1.91,1.05),(1.92,1.41),(1.93,0.83),(1.94,1.23),(1.96,0.68),(1.97,1.52),(1.99,0.92),
    (2.01,0.97),(2.02,1.29),(2.03,0.78),(2.04,1.61),(2.06,0.88),(2.08,1.14),(2.09,0.61),
    (2.11,0.85),(2.13,1.20),(2.14,0.69),(2.16,1.05),(2.18,0.51),(2.19,0.93),(2.15,2.07),
    (2.21,0.79),(2.23,1.01),(2.25,0.57),(2.26,0.88),(2.28,0.66),(2.29,1.17),
    (2.31,0.73),(2.33,0.90),(2.35,0.49),(2.36,0.82),(2.38,1.43),(2.39,0.62),(2.39,0.94),
    (2.41,1.05),(2.42,0.71),(2.43,1.52),(2.44,0.84),(2.45,1.75),(2.45,1.32),(2.46,0.58),(2.47,0.97),(2.48,0.78),(2.49,0.65),(2.45,1.10),
    (2.52,0.81),(2.54,0.69),(2.57,0.90),(2.58,0.55),
    (2.62,0.73),(2.64,0.49),(2.67,0.64),(2.69,0.84),
    (2.72,0.59),(2.74,0.77),(2.77,0.42),(2.79,0.66),
    (2.83,0.53),(2.86,0.75),(2.88,0.51),(2.89,0.86),(2.85,0.37),
    (2.92,0.58),(2.95,1.74),(2.96,1.19),(2.97,0.98),(2.98,0.82),(2.99,0.51),(2.96,0.33),
    (3.01,0.92),(3.03,0.62),(3.04,1.40),(3.05,1.13),(3.06,0.77),(3.08,0.56),(3.09,0.41),
    (3.12,0.60),(3.14,0.47),(3.17,0.55),(3.19,0.35),
    (3.22,1.89),(3.22,0.78),(3.25,0.44),(3.28,0.62),
    (3.33,0.52),(3.36,0.39),
    (3.44,0.74),(3.44,0.50),(3.48,0.61),
    # denser regions
    (0.03,1.12),(0.08,1.42),(0.10,0.86),(0.13,1.29),(0.16,0.93),(0.20,1.52),(0.23,1.01),(0.26,1.27),(0.29,0.73),(0.31,1.44),
    (0.33,1.09),(0.36,1.71),(0.38,0.95),(0.40,1.31),(0.42,0.83),(0.45,1.22),(0.47,0.59),(0.50,1.02),(0.52,1.37),(0.54,0.78),
    (0.56,1.49),(0.58,1.14),(0.44,0.87),(0.27,1.86),(0.49,1.94),
    (0.60,1.05),(0.61,1.56),(0.62,1.19),(0.63,0.81),(0.64,1.38),(0.65,1.01),(0.66,1.77),(0.67,0.88),(0.68,1.23),(0.69,1.48),
    (0.70,1.13),(0.71,0.84),(0.72,1.27),(0.73,1.44),(0.74,0.98),(0.75,1.16),(0.76,1.36),(0.77,0.77),(0.78,1.55),(0.79,1.06),
    (0.80,1.29),(0.81,1.15),(0.82,0.84),(0.83,1.64),(0.84,0.96),(0.85,1.46),(0.86,1.12),(0.87,0.73),(0.88,1.27),(0.89,1.04),
    (0.80,1.91),(0.83,0.64),(0.85,2.11),(0.87,1.71),(0.72,0.66),(0.75,2.02),(0.67,1.95),(0.64,0.57),(0.70,1.69),(0.78,1.23),
    (0.74,1.09),(0.77,1.24),(0.81,1.37),(0.84,1.26),(0.86,1.55),(0.88,0.90),
    (0.90,1.26),(0.90,0.87),(0.90,1.54),(0.91,1.13),(0.91,1.83),(0.91,0.66),(0.92,1.01),(0.92,1.38),(0.92,0.84),(0.93,1.16),
    (0.93,1.51),(0.93,0.75),(0.93,1.91),(0.94,0.97),(0.94,1.25),(0.94,1.71),(0.94,0.83),(0.95,1.19),(0.95,1.46),(0.95,0.69),
    (0.95,0.97),(0.96,1.08),(0.96,1.60),(0.96,0.77),(0.96,1.93),(0.97,1.14),(0.97,0.88),(0.97,1.42),(0.97,0.62),(0.98,1.03),
    (0.98,1.31),(0.98,0.78),(0.98,1.71),(0.99,0.95),(0.99,1.58),(0.99,0.75),(1.00,1.00),(1.00,1.38),(1.00,0.79),(1.01,1.23),
    (1.01,1.06),(1.01,1.66),(0.92,2.02),(0.96,2.09),(0.95,1.66),
    (0.93,1.24),(0.94,1.05),(0.95,1.31),(0.96,1.02),(0.97,1.30),(0.98,0.87),(0.99,1.01),(0.92,1.29),(0.94,1.46),(0.96,1.37),
    (0.97,1.53),(0.98,0.70),(0.95,0.78),(0.93,0.66),(0.91,0.95),(0.99,1.46),(0.97,0.93),(0.95,1.14),
    (1.03,1.37),(1.07,1.21),(1.10,1.58),(1.13,1.05),
    (1.04,0.89),(1.06,1.07),(1.08,1.28),(1.10,0.85),(1.12,1.17),(1.14,0.97),(1.18,1.36),(1.20,0.92),(1.22,1.16),(1.26,1.29),
    (1.28,0.83),(1.30,1.22),(1.32,0.94),(1.35,1.57),(1.38,1.05),(1.40,1.27),(1.42,0.77),(1.44,1.12),(1.47,0.87),(1.49,1.19),
    (1.50,1.49),(1.52,1.04),(1.54,1.27),(1.21,1.97),(1.11,1.45),(1.16,1.71),(1.31,1.76),(1.41,1.64),(1.46,1.05),(1.26,1.51),
    (1.55,0.92),(1.57,1.09),(1.58,1.61),(1.59,0.85),(1.60,1.19),(1.60,1.41),(1.61,1.02),(1.61,1.63),(1.61,0.69),(1.62,1.27),
    (1.62,0.89),(1.62,0.99),(1.63,0.77),(1.63,1.25),(1.63,1.06),(1.63,1.52),(1.64,1.15),(1.64,1.40),(1.64,0.94),(1.64,0.63),
    (1.65,1.03),(1.65,1.30),(1.65,1.66),(1.65,0.84),(1.66,1.10),(1.66,1.46),(1.67,1.25),(1.68,1.11),(1.68,1.68),(1.69,1.19),
    (1.76,1.22),(1.78,0.86),(1.80,1.09),(1.82,1.25),(1.85,1.05),(1.87,1.40),(1.90,0.93),(1.92,1.24),(1.95,1.01),(1.98,1.12),
    (2.00,0.84),(2.03,1.09),(2.05,0.95),(1.81,1.84),(1.97,0.79),
    (2.12,1.12),(2.17,0.79),(2.22,1.24),(2.27,0.74),(2.32,1.11),(2.37,0.58),(2.41,0.88),(2.44,1.22),(2.47,0.74),(2.51,0.63),
    (2.56,1.00),(2.66,0.58),(2.76,0.53),(3.02,0.79),(3.12,0.44),
]

filters = ['F444W', 'F277W', 'F150W', 'F115W']
points = [f444w_pts, f277w_pts, f150w_pts, f115w_pts]
meds = [f444w_med, f277w_med, f150w_med, f115w_med]
los = [f444w_lo, f277w_lo, f150w_lo, f115w_lo]
his = [f444w_hi, f277w_hi, f150w_hi, f115w_hi]

fig, axes = plt.subplots(4, 1, sharex=True, figsize=(11.14, 26.38), dpi=100)
fig.subplots_adjust(left=0.1382, right=0.9758, top=0.9992, bottom=0.044, hspace=0.0303)

for ax, name, pts, med, lo, hi in zip(axes, filters, points, meds, los, his):
    z, h = np.array(pts).T
    ax.scatter(z, h, s=48, color='#b4b4b4', linewidths=0, zorder=1)
    med = np.array(med)
    yerr = [med - np.array(lo), np.array(hi) - med]
    ax.errorbar(z_bins, med, yerr=yerr, fmt='o', color='k', ms=19.5,
                elinewidth=2.6, capsize=9, capthick=2.6, zorder=3)
    ax.set_xlim(0, 3.5)
    ax.set_ylim(0.1, 2.2)
    ax.set_yticks([0.5, 1.0, 1.5, 2.0])
    ax.set_ylabel(name + r' $h_0$ (kpc)', fontsize=36, labelpad=16)
    ax.tick_params(direction='in', top=True, right=True, length=12, width=1.0,
                   labelsize=35)
    ax.tick_params(axis='x', pad=7)
    ax.tick_params(axis='y', pad=12)
    for sp in ax.spines.values():
        sp.set_linewidth(2.8)

axes[-1].set_xticks([0.0, 0.5, 1.0, 1.5, 2.0, 2.5, 3.0, 3.5])
axes[-1].set_xlabel(r'$z$', fontsize=36, labelpad=8)

fig.savefig('out.png', dpi=100)
